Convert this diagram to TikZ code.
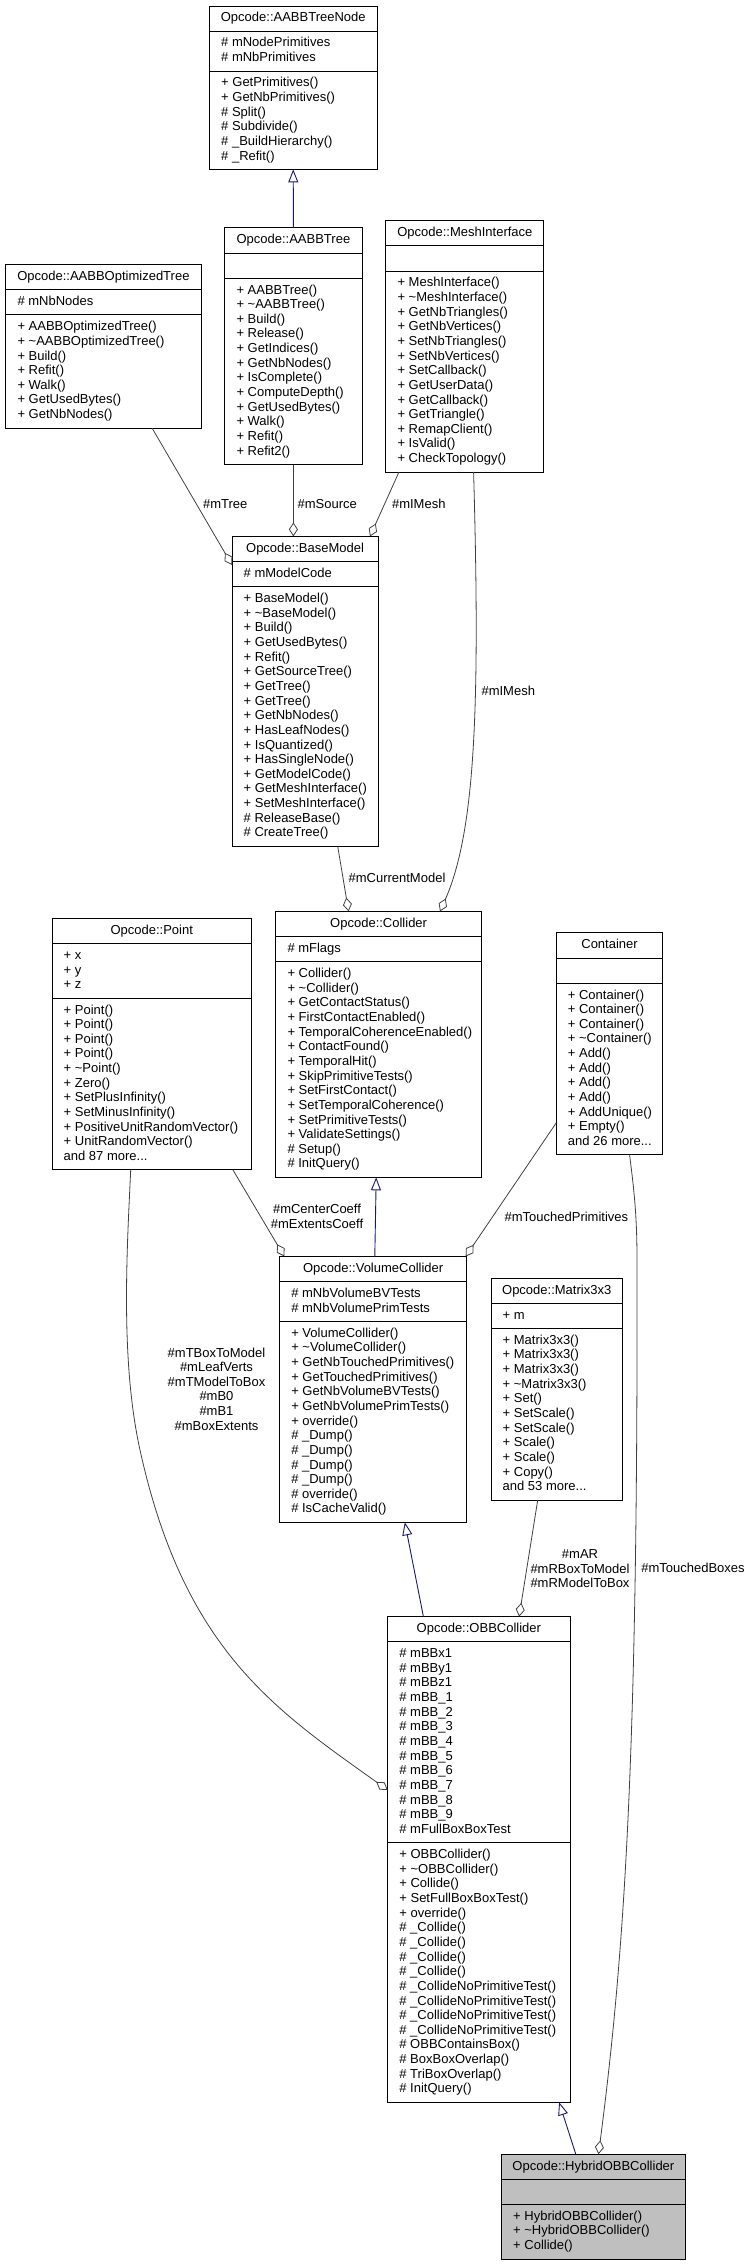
\documentclass[tikz,border=0pt]{standalone}
\usepackage{fontspec}
\setmainfont{Liberation Sans}
\usetikzlibrary{arrows.meta,calc}
\definecolor{inhcol}{HTML}{191970}
\definecolor{aggcol}{HTML}{404040}
\definecolor{hybridfill}{HTML}{BFBFBF}
\newcommand\lnstrut{\rule[-4.3pt]{0pt}{14.65pt}}
\newcommand\umlclass[9]{%
  \pgfmathsetmacro\ucA{#4+25.15}%
  \pgfmathsetmacro\ucB{\ucA+10.5+14.65*max(#6,1)}%
  \pgfmathsetmacro\ucC{\ucB+10.5+14.65*#8}%
  \pgfmathsetmacro\ucW{#3-#2}%
  \pgfmathsetmacro\ucH{\ucC-#4}%
  \pgfmathsetmacro\ucX{(#2+#3)/2}%
  \node[classbox, minimum width=\ucW pt, minimum height=\ucH pt, anchor=north west] (#1) at (#2,#4) {};
  \draw[classline] (#2,\ucA) -- (#3,\ucA) (#2,\ucB) -- (#3,\ucB);
  \node[ctitle, anchor=north] (#1-title) at (\ucX,#4+5.25) {\lnstrut#5};
  \node[cmember, anchor=north west] (#1-attr) at (#2+11.5,\ucA+5.25) {\lnstrut#7};
  \node[cmember, anchor=north west] (#1-ops) at (#2+11.5,\ucB+5.25) {\lnstrut#9};
}
\tikzset{
  classbox/.style={draw=black, line width=0.9pt, fill=white, inner sep=0pt, outer sep=0pt},
  classline/.style={draw=black, line width=0.9pt},
  ctitle/.style={inner sep=0pt, align=center, font=\fontsize{13pt}{14.65pt}\selectfont},
  cmember/.style={inner sep=0pt, align=left, font=\fontsize{13pt}{14.65pt}\selectfont},
  elabel/.style={inner sep=0pt, align=center, font=\fontsize{13pt}{14.65pt}\selectfont},
  inh/.style={draw=inhcol, line width=0.9pt, -{Triangle[open,length=13pt,width=10pt]}},
  aggr/.style={draw=aggcol, line width=0.8pt, -{Diamond[open,length=14pt,width=9pt]}},
}
\begin{document}
\begin{tikzpicture}[x=1pt,y=-1pt]
\useasboundingbox (0,0) rectangle (750,2265);

\umlclass{AABBTreeNode}{209.5}{377}{6}{Opcode::AABBTreeNode}{2}{\# mNodePrimitives\\\# mNbPrimitives}{6}{+ GetPrimitives()\\+ GetNbPrimitives()\\\# Split()\\\# Subdivide()\\\# \_BuildHierarchy()\\\# \_Refit()}

\umlclass{AABBTree}{224.8}{362}{227.9}{Opcode::AABBTree}{0}{}{12}{+ AABBTree()\\+ \textasciitilde AABBTree()\\+ Build()\\+ Release()\\+ GetIndices()\\+ GetNbNodes()\\+ IsComplete()\\+ ComputeDepth()\\+ GetUsedBytes()\\+ Walk()\\+ Refit()\\+ Refit2()}

\umlclass{MeshInterface}{385.8}{543.9}{220.7}{Opcode::MeshInterface}{0}{}{13}{+ MeshInterface()\\+ \textasciitilde MeshInterface()\\+ GetNbTriangles()\\+ GetNbVertices()\\+ SetNbTriangles()\\+ SetNbVertices()\\+ SetCallback()\\+ GetUserData()\\+ GetCallback()\\+ GetTriangle()\\+ RemapClient()\\+ IsValid()\\+ CheckTopology()}

\umlclass{AABBOptTree}{5.8}{201}{264.6}{Opcode::AABBOptimizedTree}{1}{\# mNbNodes}{7}{+ AABBOptimizedTree()\\+ \textasciitilde AABBOptimizedTree()\\+ Build()\\+ Refit()\\+ Walk()\\+ GetUsedBytes()\\+ GetNbNodes()}

\umlclass{BaseModel}{232}{378.1}{536.4}{Opcode::BaseModel}{1}{\# mModelCode}{17}{+ BaseModel()\\+ \textasciitilde BaseModel()\\+ Build()\\+ GetUsedBytes()\\+ Refit()\\+ GetSourceTree()\\+ GetTree()\\+ GetTree()\\+ GetNbNodes()\\+ HasLeafNodes()\\+ IsQuantized()\\+ HasSingleNode()\\+ GetModelCode()\\+ GetMeshInterface()\\+ SetMeshInterface()\\\# ReleaseBase()\\\# CreateTree()}

\umlclass{Collider}{275.8}{481.5}{911.4}{Opcode::Collider}{1}{\# mFlags}{14}{+ Collider()\\+ \textasciitilde Collider()\\+ GetContactStatus()\\+ FirstContactEnabled()\\+ TemporalCoherenceEnabled()\\+ ContactFound()\\+ TemporalHit()\\+ SkipPrimitiveTests()\\+ SetFirstContact()\\+ SetTemporalCoherence()\\+ SetPrimitiveTests()\\+ ValidateSettings()\\\# Setup()\\\# InitQuery()}

\umlclass{Point}{52}{251.5}{918.6}{Opcode::Point}{3}{+ x\\+ y\\+ z}{11}{+ Point()\\+ Point()\\+ Point()\\+ Point()\\+ \textasciitilde Point()\\+ Zero()\\+ SetPlusInfinity()\\+ SetMinusInfinity()\\+ PositiveUnitRandomVector()\\+ UnitRandomVector()\\and 87 more...}

\umlclass{Container}{556.2}{662.9}{932.9}{Container}{0}{}{11}{+ Container()\\+ Container()\\+ Container()\\+ \textasciitilde Container()\\+ Add()\\+ Add()\\+ Add()\\+ Add()\\+ AddUnique()\\+ Empty()\\and 26 more...}

\umlclass{VolumeCollider}{279.6}{466.7}{1256.4}{Opcode::VolumeCollider}{2}{\# mNbVolumeBVTests\\\# mNbVolumePrimTests}{13}{+ VolumeCollider()\\+ \textasciitilde VolumeCollider()\\+ GetNbTouchedPrimitives()\\+ GetTouchedPrimitives()\\+ GetNbVolumeBVTests()\\+ GetNbVolumePrimTests()\\+ override()\\\# \_Dump()\\\# \_Dump()\\\# \_Dump()\\\# \_Dump()\\\# override()\\\# IsCacheValid()}

\umlclass{Matrix}{491}{622.4}{1278.2}{Opcode::Matrix3x3}{1}{+ m}{11}{+ Matrix3x3()\\+ Matrix3x3()\\+ Matrix3x3()\\+ \textasciitilde Matrix3x3()\\+ Set()\\+ SetScale()\\+ SetScale()\\+ Scale()\\+ Scale()\\+ Copy()\\and 53 more...}

\umlclass{OBBCollider}{387.7}{570}{1616.6}{Opcode::OBBCollider}{13}{\# mBBx1\\\# mBBy1\\\# mBBz1\\\# mBB\_1\\\# mBB\_2\\\# mBB\_3\\\# mBB\_4\\\# mBB\_5\\\# mBB\_6\\\# mBB\_7\\\# mBB\_8\\\# mBB\_9\\\# mFullBoxBoxTest}{17}{+ OBBCollider()\\+ \textasciitilde OBBCollider()\\+ Collide()\\+ SetFullBoxBoxTest()\\+ override()\\\# \_Collide()\\\# \_Collide()\\\# \_Collide()\\\# \_Collide()\\\# \_CollideNoPrimitiveTest()\\\# \_CollideNoPrimitiveTest()\\\# \_CollideNoPrimitiveTest()\\\# \_CollideNoPrimitiveTest()\\\# OBBContainsBox()\\\# BoxBoxOverlap()\\\# TriBoxOverlap()\\\# InitQuery()}

\begin{scope}[classbox/.append style={fill=hybridfill}]
\umlclass{Hybrid}{501.5}{685.3}{2154.2}{Opcode::HybridOBBCollider}{0}{}{3}{+ HybridOBBCollider()\\+ \textasciitilde HybridOBBCollider()\\+ Collide()}
\end{scope}

% connectors
\coordinate (pB1) at (140,1450);
\coordinate (cB1) at (637,1260);

\draw[inh] (AABBTree.north) -- (AABBTreeNode.south);
\draw[aggr] ($(AABBOptTree.south west)+(146.2,0)$) -- ($(BaseModel.north west)+(0,28.6)$);
\draw[aggr] (AABBTree.south) -- ($(BaseModel.north west)+(61.4,0)$);
\draw[aggr] ($(MeshInterface.south west)+(13.2,0)$) -- ($(BaseModel.north west)+(138,0)$);
\draw[aggr] ($(MeshInterface.south west)+(87.8,0)$) .. controls (480,700) and (476,830) .. ($(Collider.north west)+(164.2,0)$);
\draw[aggr] ($(BaseModel.south west)+(105.7,0)$) -- ($(Collider.north west)+(72.8,0)$);
\draw[inh] ($(VolumeCollider.north west)+(95.2,0)$) -- ($(Collider.south west)+(100.4,0)$);
\draw[aggr] ($(Point.south west)+(180.9,0)$) -- ($(VolumeCollider.north west)+(4.7,0)$);
\draw[aggr] ($(Container.north west)+(0,190)$) -- ($(VolumeCollider.north east)+(-1,0)$);
\draw[aggr] ($(Matrix.south west)+(46.7,0)$) -- ($(OBBCollider.north west)+(131.4,0)$);
\draw[inh] ($(OBBCollider.north west)+(35.7,0)$) -- ($(VolumeCollider.south west)+(125.2,0)$);
\draw[aggr] ($(Point.south west)+(78.7,0)$) .. controls (127,1250) and (120.2,1360) .. (pB1) .. controls (184,1650) and (275.5,1710) .. ($(OBBCollider.north west)+(0,173.4)$);
\draw[inh] ($(Hybrid.north west)+(74.3,0)$) -- ($(OBBCollider.south west)+(171.4,0)$);
\draw[aggr] ($(Container.south west)+(73.4,0)$) .. controls (634,1190) and (637,1215) .. (cB1) .. controls (638,1750) and (625,1950) .. ($(Hybrid.north west)+(97,0)$);

% labels
\node[elabel] (lTree) at (225.3,503.6) {\#mTree};
\node[elabel] (lSource) at (327.2,503.6) {\#mSource};
\node[elabel] (lIMeshA) at (418.8,503.6) {\#mIMesh};
\node[elabel] (lIMeshB) at (508.3,690.5) {\#mIMesh};
\node[elabel] (lCurModel) at (397,878.2) {\#mCurrentModel};
\node[elabel] (lCoeff) at (317,1216.5) {\#mCenterCoeff\\\#mExtentsCoeff};
\node[elabel] (lTouchedPrim) at (566.4,1216.4) {\#mTouchedPrimitives};
\node[elabel] (lBoxModel) at (216.5,1389) {\#mTBoxToModel\\\#mLeafVerts\\\#mTModelToBox\\\#mB0\\\#mB1\\\#mBoxExtents};
\node[elabel] (lMatrix) at (580,1568.8) {\#mAR\\\#mRBoxToModel\\\#mRModelToBox};
\node[elabel] (lBoxes) at (693,1567.5) {\#mTouchedBoxes};
\end{tikzpicture}
\end{document}
